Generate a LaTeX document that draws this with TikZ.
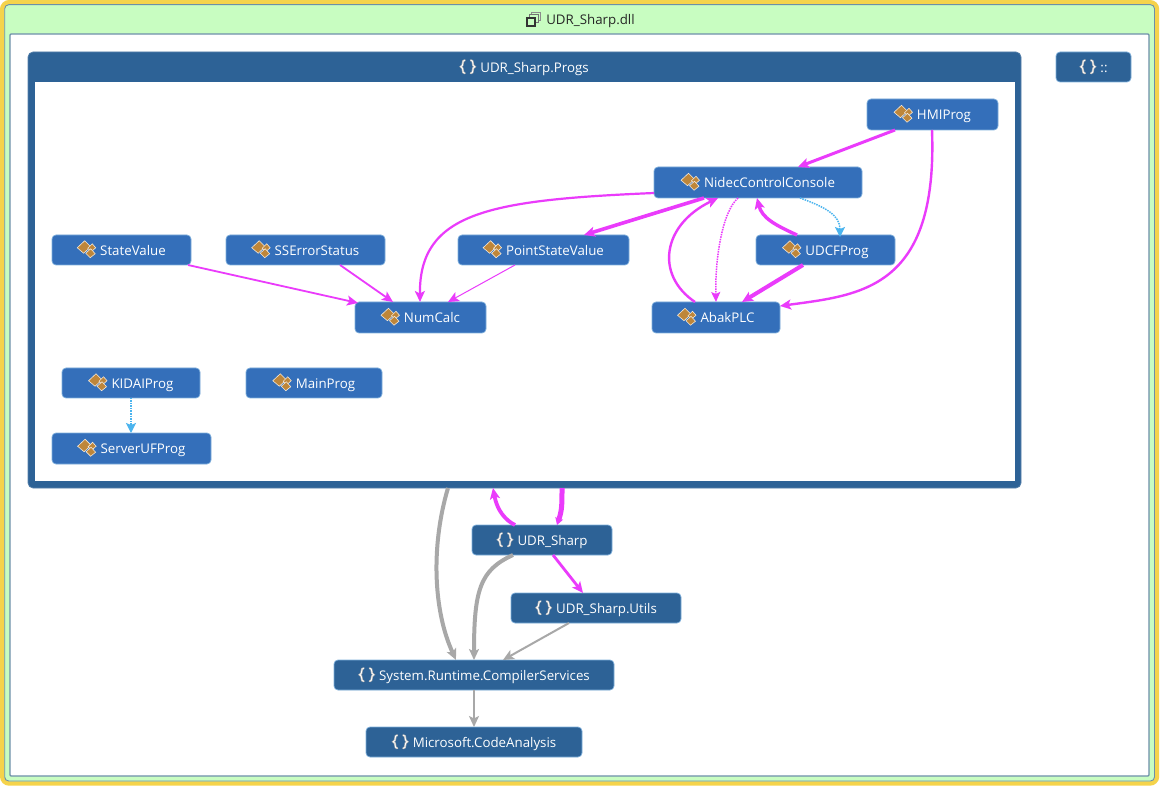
\documentclass[tikz,border=0pt]{standalone}
\usepackage{fontspec}
\setmainfont{Open Sans}
\usetikzlibrary{arrows.meta}
\definecolor{yel}{HTML}{F5D34B}
\definecolor{grn}{HTML}{C8FDC1}
\definecolor{edgeb}{HTML}{6C8FA8}
\definecolor{nsb}{HTML}{2D6296}
\definecolor{clsb}{HTML}{346FBA}
\definecolor{lite}{HTML}{7FB0DC}
\definecolor{mag}{HTML}{EA3BFB}
\definecolor{gry}{HTML}{A8A8A8}
\definecolor{sky}{HTML}{4BB4EE}
\definecolor{brn}{HTML}{BE863A}
\newcommand{\clsicon}{\tikz[sharp corners,baseline=-5.5pt,x=1pt,y=1pt,line width=.6pt,line join=miter]{%
  \path[use as bounding box](-9,-9) rectangle (9,9);
  \draw[white!80!brn,fill=brn] (-9,2)--(-1.5,9)--(4.5,3)--(-2.5,-3.5)--cycle;
  \draw[white!80!brn,fill=brn] (1.5,1.5)--(5,-2)--(9.5,2)--(6,6)--cycle;
  \draw[white!80!brn,fill=brn] (-.5,-3.5)--(4,-8)--(9,-4)--(4.5,1)--cycle;}}
\newcommand{\nsicon}{\tikz[sharp corners,baseline=-5pt,x=1pt,y=1pt,line cap=round]{%
  \path[use as bounding box](-8.5,-7) rectangle (8.5,8);
  \foreach \s in {-1,1}{
  \draw[gray!60,line width=2.1pt] (\s*3,7) .. controls (\s*6.5,7) and (\s*3.5,1.5) .. (\s*7,0.5) .. controls (\s*3.5,-.5) and (\s*6.5,-6) .. (\s*3,-6);
  \draw[white,line width=.8pt] (\s*3,7) .. controls (\s*6.5,7) and (\s*3.5,1.5) .. (\s*7,0.5) .. controls (\s*3.5,-.5) and (\s*6.5,-6) .. (\s*3,-6);}}}
\newcommand{\winicon}{\tikz[sharp corners,baseline=-5pt,x=1pt,y=1pt]{%
  \path[use as bounding box](-8,-7) rectangle (8,8);
  \draw[black!45,line width=1.1pt,fill=grn] (-1.5,-.5) rectangle (7,7.5);
  \draw[black!55,line width=1.1pt,fill=grn] (-3.5,-2.5) rectangle (5,5.5);
  \draw[black!80,line width=1.6pt,fill=grn] (-6.5,-6.5) rectangle (2,2);}}
\newcommand{\nd}[7][]{%
  \pgfmathsetmacro{\cx}{(#3+#5)/2}\pgfmathsetmacro{\cy}{(#4+#6)/2}%
  \pgfmathsetmacro{\ww}{#5-#3}\pgfmathsetmacro{\hh}{#6-#4}%
  \node[box,minimum width=\ww pt,minimum height=\hh pt,#1] (#2) at (\cx,\cy) {#7};}
\tikzset{
  labeltext/.style={font=\fontsize{13.3}{15}\selectfont,text height=13pt,text depth=2.5pt,inner sep=0pt,outer sep=0pt},
  box/.style={labeltext,rounded corners=4pt,draw=lite,line width=.7pt,text=white},
  cls/.style={fill=clsb},
  nsp/.style={fill=nsb},
  lnk/.style={line cap=butt,-{Stealth[length=11pt,width=10pt,inset=2.5pt]}},
  mg/.style={lnk,draw=mag},
  gr/.style={lnk,draw=gry},
  dotm/.style={mg,densely dotted,line width=1.5pt,-{Stealth[length=10pt,width=9pt,inset=2pt]}},
  dots/.style={lnk,draw=sky,densely dotted,line width=1.5pt,-{Stealth[length=10pt,width=10pt,inset=2pt]}},
}
\begin{document}
\begin{tikzpicture}[x=1pt,y=-1pt]
\useasboundingbox (0,0) rectangle (1160,786);
\fill[white] (0,0) rectangle (1160,786);
\nd[draw=yel,line width=4.4pt,fill=grn,rounded corners=7pt]{outerframe}{2.2}{2.2}{1157}{783.5}{}
\nd[draw=edgeb,line width=.9pt,fill=none,rounded corners=4pt]{outerline}{4.7}{4.7}{1154.5}{781}{}
\nd[draw=edgeb,line width=1.2pt,fill=white,rounded corners=1pt]{innerframe}{10}{34}{1149}{776}{}
\node[labeltext,text=black!85] (dlltitle) at (580,19.5) {\winicon\hspace{5pt}UDR\_Sharp.dll};
\nd[nsp,draw=nsb!80,line width=.7pt,rounded corners=5pt]{progs}{28}{52}{1021}{488}{}
\nd[draw=none,fill=white,rounded corners=0pt]{progsbody}{35}{82}{1015}{481}{}
\node[labeltext,text=white] (progstitle) at (524,67) {\nsicon\hspace{4pt}UDR\_Sharp.Progs};
\nd[nsp]{colons}{1056}{52}{1131}{82}{\nsicon\hspace{4pt}::}
% class nodes
\nd[cls]{hmi}{867}{99}{998}{130}{\clsicon\hspace{5pt}HMIProg}
\nd[cls]{nidec}{654}{167}{862}{198}{\clsicon\hspace{5pt}NidecControlConsole}
\nd[cls]{state}{52}{235}{191}{265}{\clsicon\hspace{5pt}StateValue}
\nd[cls]{sserr}{226}{235}{385}{265}{\clsicon\hspace{5pt}SSErrorStatus}
\nd[cls]{point}{458}{235}{629}{265}{\clsicon\hspace{5pt}PointStateValue}
\nd[cls]{udcf}{756}{235}{895}{265}{\clsicon\hspace{5pt}UDCFProg}
\nd[cls]{numcalc}{355}{302}{486}{333}{\clsicon\hspace{5pt}NumCalc}
\nd[cls]{abak}{652}{302}{780}{333}{\clsicon\hspace{5pt}AbakPLC}
\nd[cls]{kidai}{62}{368}{200}{398}{\clsicon\hspace{5pt}KIDAIProg}
\nd[cls]{mainprog}{246}{368}{382}{398}{\clsicon\hspace{5pt}MainProg}
\nd[cls]{server}{52}{433}{211}{464}{\clsicon\hspace{5pt}ServerUFProg}
% namespace nodes
\nd[nsp]{udr}{472}{525}{612}{555}{\nsicon\hspace{4pt}UDR\_Sharp}
\nd[nsp]{utils}{511}{593}{681}{623}{\nsicon\hspace{4pt}UDR\_Sharp.Utils}
\nd[nsp]{sys}{334}{660}{614}{690}{\nsicon\hspace{4pt}System.Runtime.CompilerServices}
\nd[nsp]{ms}{366}{727}{582}{757}{\nsicon\hspace{4pt}Microsoft.CodeAnalysis}
% class edges
\draw[mg,line width=3pt] ([xshift=28pt]hmi.south west) -- ([xshift=144pt]nidec.north west);
\draw[mg,line width=2.4pt] ([xshift=65pt]hmi.south west) .. controls (938,290) and (860,295) .. ([yshift=-4pt]abak.north east);
\draw[mg,line width=2.2pt] ([yshift=5pt]nidec.south west) .. controls (490,200) and (419,212) .. ([xshift=65pt]numcalc.north west);
\draw[mg,line width=3.6pt] ([xshift=50pt]nidec.south west) -- ([xshift=126pt]point.north west);
\draw[mg,line width=2.4pt] ([xshift=43pt]abak.north west) .. controls (655,275) and (662,225) .. ([xshift=64pt]nidec.south west);
\draw[dotm] ([xshift=84pt]nidec.south west) .. controls (722,212) and (715,260) .. ([xshift=64pt]abak.north west);
\draw[mg,line width=3.4pt] ([xshift=41pt]udcf.north west) .. controls (775,225) and (762,218) .. ([xshift=103pt]nidec.south west);
\draw[dots] ([xshift=146pt]nidec.south west) .. controls (825,207) and (840,215) .. ([xshift=84pt,yshift=-2pt]udcf.north west);
\draw[mg,line width=4pt] ([xshift=47pt]udcf.south west) -- ([xshift=90pt]abak.north west);
\draw[mg,line width=1.8pt] ([xshift=136pt]state.south west) -- ([xshift=3pt,yshift=-1pt]numcalc.north west);
\draw[mg,line width=1.8pt] ([xshift=114pt]sserr.south west) -- ([xshift=38pt]numcalc.north west);
\draw[mg,line width=1pt] ([xshift=57pt]point.south west) -- ([xshift=93pt]numcalc.north west);
\draw[dots] (kidai.south) -- ([xshift=79pt]server.north west);
% namespace edges
\draw[gr,line width=4pt] ([xshift=420pt]progs.south west) .. controls (431,545) and (433,610) .. ([xshift=122pt]sys.north west);
\draw[mg,line width=3.8pt] ([xshift=43pt]udr.north west) .. controls (505,520) and (497,510) .. ([xshift=465pt]progs.south west);
\draw[mg,line width=5pt,-{Stealth[length=7pt,width=8pt,inset=1pt]}] ([xshift=534pt]progs.south west) .. controls (562,505) and (562,510) .. ([xshift=85pt]udr.north west);
\draw[mg,line width=2.8pt] ([xshift=81pt]udr.south west) -- ([xshift=72pt]utils.north west);
\draw[gr,line width=4pt] ([xshift=41pt]udr.south west) .. controls (480,570) and (474,590) .. ([xshift=140pt]sys.north west);
\draw[gr,line width=2pt] ([xshift=58pt]utils.south west) -- ([xshift=169pt]sys.north west);
\draw[gr,line width=1.6pt] ([xshift=140pt]sys.south west) -- ([xshift=108pt]ms.north west);
\end{tikzpicture}
\end{document}
